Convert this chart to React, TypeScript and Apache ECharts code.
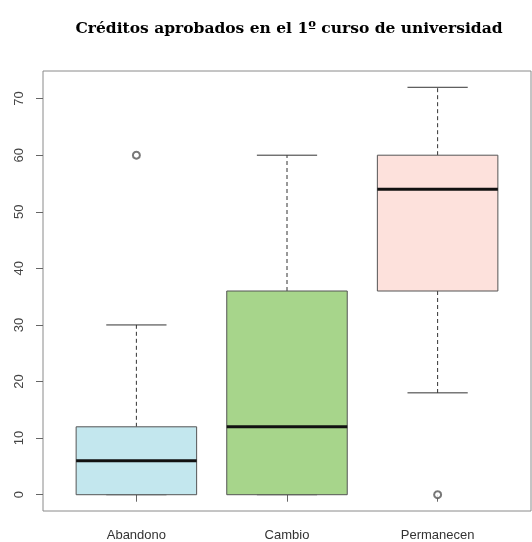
import React, { useEffect, useRef } from "react";
import * as echarts from "echarts";

const categories = ["Abandono", "Cambio", "Permanecen"];
const whiskerLow = [0, 0, 18];
const q1 = [0, 0, 36];
const median = [6, 12, 54];
const q3 = [12, 36, 60];
const whiskerHigh = [30, 60, 72];
const outlierCategory = ["Abandono", "Permanecen"];
const outlierValues = [60, 0];
const yTicks = [0, 10, 20, 30, 40, 50, 60, 70];

const fills = ["#c3e7ee", "#a7d58b", "#fde1dc"];

export default function App() {
  const ref = useRef<HTMLDivElement>(null);
  useEffect(() => {
    const chart = echarts.init(ref.current!, null, { renderer: "svg" });
    const boxData = categories.map((c, i) => [
      i + 1,
      whiskerLow[i],
      q1[i],
      median[i],
      q3[i],
      whiskerHigh[i],
    ]);
    const outData = outlierCategory.map((c, i) => [
      categories.indexOf(c) + 1,
      outlierValues[i],
    ]);
    const lineColor = "#333";
    chart.setOption({
      animation: false,
      title: {
        text: "Créditos aprobados en el 1º curso de universidad",
        left: 284,
        top: 14,
        textAlign: "center",
        textStyle: {
          fontFamily: "DejaVu Serif",
          fontWeight: "bold",
          fontSize: 15.5,
          color: "#000",
        },
      },
      grid: {
        left: 43,
        top: 71,
        right: 1,
        bottom: 31,
        show: true,
        borderColor: "#8a8a8a",
        borderWidth: 1,
        containLabel: false,
      },
      xAxis: {
        type: "value",
        min: 0.38,
        max: 3.62,
        splitLine: { show: false },
        axisLine: { show: false },
        axisTick: {
          show: true,
          customValues: categories.map((_, i) => i + 1),
          length: 7,
          lineStyle: { color: "#666" },
        },
        axisLabel: {
          customValues: categories.map((_, i) => i + 1),
          formatter: (v: number) => categories[Math.round(v) - 1] ?? "",
          margin: 17,
          fontFamily: "Liberation Sans",
          fontSize: 13,
          color: "#333",
        },
      },
      yAxis: {
        type: "value",
        min: -2.88,
        max: 74.88,
        splitLine: { show: false },
        axisLine: { show: false },
        axisTick: {
          show: true,
          customValues: yTicks,
          length: 7,
          lineStyle: { color: "#666" },
        },
        axisLabel: {
          customValues: yTicks,
          rotate: 90,
          margin: 18,
          fontFamily: "Liberation Sans",
          fontSize: 13,
          color: "#444",
        },
      },
      series: [
        {
          type: "custom",
          data: boxData,
          encode: { x: 0, y: [1, 2, 3, 4, 5] },
          renderItem: (params: any, api: any) => {
            const x = api.value(0);
            const idx = params.dataIndex;
            const pLo = api.coord([x, api.value(1)]);
            const pQ1 = api.coord([x, api.value(2)]);
            const pMed = api.coord([x, api.value(3)]);
            const pQ3 = api.coord([x, api.value(4)]);
            const pHi = api.coord([x, api.value(5)]);
            const half = api.size([0.8, 0])[0] / 2;
            const cap = half / 2;
            const cx = pQ1[0];
            const dashStyle = {
              stroke: lineColor,
              lineWidth: 1,
              lineDash: [4, 3],
            };
            const solid = { stroke: lineColor, lineWidth: 1 };
            return {
              type: "group",
              children: [
                {
                  type: "line",
                  shape: { x1: cx, y1: pQ3[1], x2: cx, y2: pHi[1] },
                  style: dashStyle,
                },
                {
                  type: "line",
                  shape: { x1: cx, y1: pQ1[1], x2: cx, y2: pLo[1] },
                  style: dashStyle,
                },
                {
                  type: "line",
                  shape: { x1: cx - cap, y1: pHi[1], x2: cx + cap, y2: pHi[1] },
                  style: solid,
                },
                {
                  type: "line",
                  shape: { x1: cx - cap, y1: pLo[1], x2: cx + cap, y2: pLo[1] },
                  style: solid,
                },
                {
                  type: "rect",
                  shape: {
                    x: cx - half,
                    y: pQ3[1],
                    width: half * 2,
                    height: pQ1[1] - pQ3[1],
                  },
                  style: { fill: fills[idx], stroke: "#555", lineWidth: 1 },
                },
                {
                  type: "line",
                  shape: {
                    x1: cx - half,
                    y1: pMed[1],
                    x2: cx + half,
                    y2: pMed[1],
                  },
                  style: { stroke: "#111", lineWidth: 3 },
                },
              ],
            };
          },
        },
        {
          type: "scatter",
          data: outData,
          symbol: "emptyCircle",
          symbolSize: 7,
          itemStyle: { color: "#555", borderColor: "#555", borderWidth: 0.8 },
        },
      ],
    });
    return () => chart.dispose();
  }, []);
  return (
    <div
      ref={ref}
      style={{ position: "fixed", left: 0, top: 0, width: 532, height: 542 }}
    />
  );
}
